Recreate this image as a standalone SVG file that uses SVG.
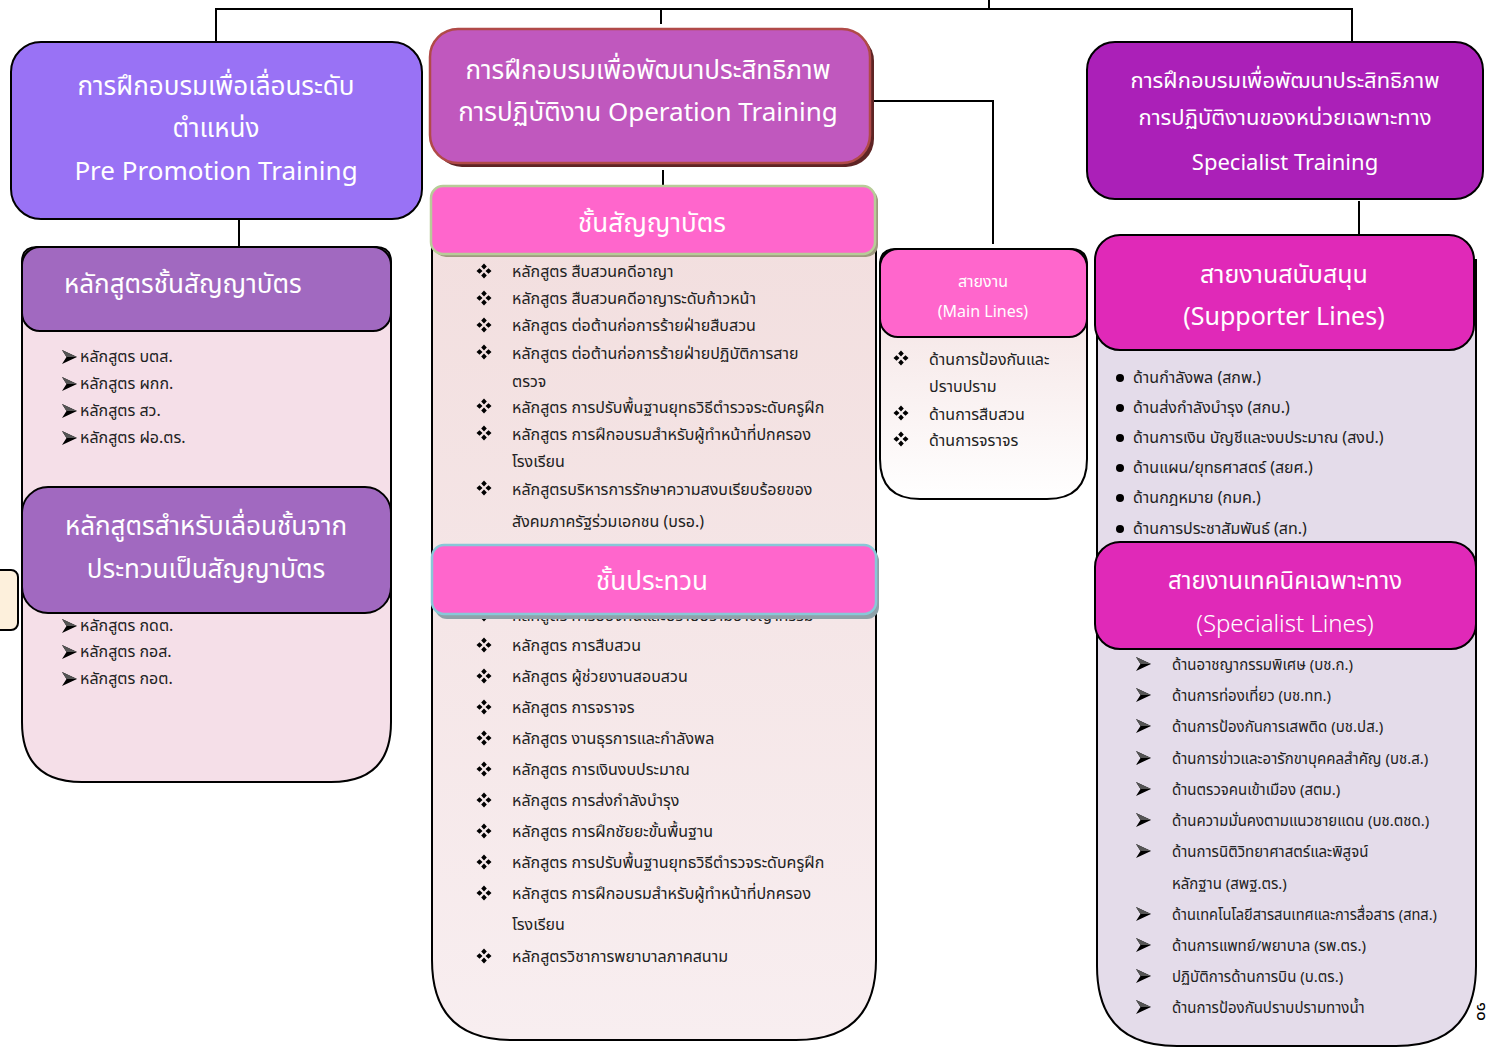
<svg xmlns="http://www.w3.org/2000/svg" width="1494" height="1048" viewBox="0 0 1494 1048">
<defs>
<style>
.t{font-family:"Noto Sans Thai","Noto Sans","DejaVu Sans",sans-serif;}
.hw{fill:#ffffff;text-anchor:middle;}
.it{fill:#222222;font-size:16px;}
.is{fill:#222222;font-size:15px;}
.cn{stroke:#000;stroke-width:2;fill:none;}
</style>
<g id="arr"><path d="M0,-7 L15,0 L0,7 L4.5,0 Z" fill="#000"/><path d="M0,-7 L15,0 L4.5,0 Z" fill="#555"/></g>
<g id="dia" fill="#000"><path d="M0,-7.5 L2.8,-4.5 L0,-1.5 L-2.8,-4.5 Z M0,7.5 L2.8,4.5 L0,1.5 L-2.8,4.5 Z M-7.5,0 L-4.5,2.8 L-1.5,0 L-4.5,-2.8 Z M7.5,0 L4.5,2.8 L1.5,0 L4.5,-2.8 Z"/></g>
<linearGradient id="gMid" x1="0" y1="0" x2="0" y2="1"><stop offset="0" stop-color="#f2dede"/><stop offset="1" stop-color="#f8eef0"/></linearGradient>
<linearGradient id="gMain" x1="0" y1="0" x2="0" y2="1"><stop offset="0" stop-color="#f2dede"/><stop offset="1" stop-color="#ffffff"/></linearGradient>
</defs>
<rect width="1494" height="1048" fill="#ffffff"/>

<g id="connectors">
<path class="cn" d="M216 9 H1352 M216 8 V42 M661 8 V24 M989 0 V8 M1352 8 V42"/>
<path class="cn" d="M872 101 H993 V244"/>
<path class="cn" d="M663 170 V186"/>
<path class="cn" d="M239 220 V247"/>
<path class="cn" d="M1359 201 V236"/>
</g>

<g id="side-tab"><rect x="-12" y="570" width="30" height="60" rx="7" fill="#fdf0dc" stroke="#000" stroke-width="2"/></g>

<g id="pre-promotion" class="t">
<rect x="11" y="42" width="411" height="177" rx="30" fill="#9972f5" stroke="#000" stroke-width="2"/>
<text class="hw" font-size="26" x="216" y="95">การฝึกอบรมเพื่อเลื่อนระดับ</text>
<text class="hw" font-size="26" x="216" y="137">ตำแหน่ง</text>
<text class="hw" font-size="26" x="216" y="180">Pre Promotion Training</text>
</g>

<g id="operation" class="t">
<rect x="434" y="33" width="440" height="134" rx="28" fill="#5e2424"/>
<rect x="430" y="29" width="440" height="134" rx="28" fill="#c058be" stroke="#b04a48" stroke-width="2.5"/>
<text class="hw" font-size="26" x="648" y="79">การฝึกอบรมเพื่อพัฒนาประสิทธิภาพ</text>
<text class="hw" font-size="26" x="648" y="121">การปฏิบัติงาน Operation Training</text>
</g>

<g id="specialist-training" class="t">
<rect x="1087" y="42" width="396" height="157" rx="28" fill="#ab20b8" stroke="#000" stroke-width="2"/>
<text class="hw" font-size="22" x="1285" y="88">การฝึกอบรมเพื่อพัฒนาประสิทธิภาพ</text>
<text class="hw" font-size="22" x="1285" y="125">การปฏิบัติงานของหน่วยเฉพาะทาง</text>
<text class="hw" font-size="22" x="1285" y="170">Specialist Training</text>
</g>

<g id="left-courses" class="t">
<path d="M22 262 Q22 247 37 247 H376 Q391 247 391 262 V722 Q391 782 331 782 H82 Q22 782 22 722 Z" fill="#f5dfe8" stroke="#000" stroke-width="2"/>
<rect x="22" y="247" width="369" height="84" rx="18" fill="#a169c0" stroke="#000" stroke-width="2"/>
<text fill="#fff" font-size="26" x="64" y="293">หลักสูตรชั้นสัญญาบัตร</text>
<use href="#arr" x="62" y="357"/><text class="it" x="80" y="362">หลักสูตร บตส.</text>
<use href="#arr" x="62" y="384"/><text class="it" x="80" y="389">หลักสูตร ผกก.</text>
<use href="#arr" x="62" y="411"/><text class="it" x="80" y="416">หลักสูตร สว.</text>
<use href="#arr" x="62" y="438"/><text class="it" x="80" y="443">หลักสูตร ฝอ.ตร.</text>
<rect x="22" y="487" width="369" height="126" rx="26" fill="#a169c0" stroke="#000" stroke-width="2"/>
<text class="hw" font-size="26" x="206" y="535">หลักสูตรสำหรับเลื่อนชั้นจาก</text>
<text class="hw" font-size="26" x="206" y="578">ประทวนเป็นสัญญาบัตร</text>
<use href="#arr" x="62" y="626"/><text class="it" x="80" y="631">หลักสูตร กดต.</text>
<use href="#arr" x="62" y="652"/><text class="it" x="80" y="657">หลักสูตร กอส.</text>
<use href="#arr" x="62" y="679"/><text class="it" x="80" y="684">หลักสูตร กอต.</text>
</g>

<g id="operation-courses" class="t">
<path d="M432 200 H876 V960 Q876 1040 796 1040 H512 Q432 1040 432 960 Z" fill="url(#gMid)" stroke="#000" stroke-width="2"/>
<rect x="434" y="189" width="444" height="68" rx="12" fill="#a09a80"/>
<rect x="431" y="186" width="444" height="68" rx="12" fill="#ff66cc" stroke="#b8cc98" stroke-width="2.5"/>
<text class="hw" font-size="26" x="652" y="232">ชั้นสัญญาบัตร</text>
<use href="#dia" x="484" y="271"/><text class="it" x="512" y="277">หลักสูตร สืบสวนคดีอาญา</text>
<use href="#dia" x="484" y="298"/><text class="it" x="512" y="304">หลักสูตร สืบสวนคดีอาญาระดับก้าวหน้า</text>
<use href="#dia" x="484" y="325"/><text class="it" x="512" y="331">หลักสูตร ต่อต้านก่อการร้ายฝ่ายสืบสวน</text>
<use href="#dia" x="484" y="352"/><text class="it" x="512" y="359">หลักสูตร ต่อต้านก่อการร้ายฝ่ายปฏิบัติการสาย</text>
<text class="it" x="512" y="387">ตรวจ</text>
<use href="#dia" x="484" y="406"/><text class="it" x="512" y="413">หลักสูตร การปรับพื้นฐานยุทธวิธีตำรวจระดับครูฝึก</text>
<use href="#dia" x="484" y="433"/><text class="it" x="512" y="440">หลักสูตร การฝึกอบรมสำหรับผู้ทำหน้าที่ปกครอง</text>
<text class="it" x="512" y="467">โรงเรียน</text>
<use href="#dia" x="484" y="488"/><text class="it" x="512" y="495">หลักสูตรบริหารการรักษาความสงบเรียบร้อยของ</text>
<text class="it" x="512" y="527">สังคมภาครัฐร่วมเอกชน (บรอ.)</text>
<use href="#dia" x="484" y="614"/><text class="it" x="512" y="621">หลักสูตร การป้องกันและปราบปรามอาชญากรรม</text>
<rect x="435" y="549" width="444" height="70" rx="12" fill="#8fa2aa"/>
<rect x="432" y="545" width="444" height="69" rx="12" fill="#ff66cc" stroke="#88c8d8" stroke-width="2.5"/>
<text class="hw" font-size="26" x="652" y="590">ชั้นประทวน</text>
<use href="#dia" x="484" y="645"/><text class="it" x="512" y="651">หลักสูตร การสืบสวน</text>
<use href="#dia" x="484" y="676"/><text class="it" x="512" y="682">หลักสูตร ผู้ช่วยงานสอบสวน</text>
<use href="#dia" x="484" y="707"/><text class="it" x="512" y="713">หลักสูตร การจราจร</text>
<use href="#dia" x="484" y="738"/><text class="it" x="512" y="744">หลักสูตร งานธุรการและกำลังพล</text>
<use href="#dia" x="484" y="769"/><text class="it" x="512" y="775">หลักสูตร การเงินงบประมาณ</text>
<use href="#dia" x="484" y="800"/><text class="it" x="512" y="806">หลักสูตร การส่งกำลังบำรุง</text>
<use href="#dia" x="484" y="831"/><text class="it" x="512" y="837">หลักสูตร การฝึกชัยยะขั้นพื้นฐาน</text>
<use href="#dia" x="484" y="862"/><text class="it" x="512" y="868">หลักสูตร การปรับพื้นฐานยุทธวิธีตำรวจระดับครูฝึก</text>
<use href="#dia" x="484" y="893"/><text class="it" x="512" y="899">หลักสูตร การฝึกอบรมสำหรับผู้ทำหน้าที่ปกครอง</text>
<text class="it" x="512" y="930">โรงเรียน</text>
<use href="#dia" x="484" y="956"/><text class="it" x="512" y="962">หลักสูตรวิชาการพยาบาลภาคสนาม</text>
</g>

<g id="main-lines" class="t">
<path d="M880 265 Q880 249 896 249 H1071 Q1087 249 1087 265 V459 Q1087 499 1047 499 H920 Q880 499 880 459 Z" fill="url(#gMain)" stroke="#000" stroke-width="2"/>
<rect x="880" y="249" width="207" height="88" rx="18" fill="#ff66cc" stroke="#000" stroke-width="2"/>
<text class="hw" font-size="16" x="983" y="287">สายงาน</text>
<text class="hw" font-size="16" x="983" y="317">(Main Lines)</text>
<use href="#dia" x="901" y="358"/><text class="it" x="929" y="365">ด้านการป้องกันและ</text>
<text class="it" x="929" y="392">ปราบปราม</text>
<use href="#dia" x="901" y="413"/><text class="it" x="929" y="420">ด้านการสืบสวน</text>
<use href="#dia" x="901" y="439"/><text class="it" x="929" y="446">ด้านการจราจร</text>
</g>

<g id="supporter-lines" class="t">
<path d="M1097 260 H1476 V966 Q1476 1046 1396 1046 H1177 Q1097 1046 1097 966 Z" fill="#e4dcea" stroke="#000" stroke-width="2"/>
<rect x="1095" y="235" width="379" height="115" rx="25" fill="#e029b8" stroke="#000" stroke-width="2"/>
<text class="hw" font-size="25" x="1284" y="283">สายงานสนับสนุน</text>
<text class="hw" font-size="25" x="1284" y="325">(Supporter Lines)</text>
<circle cx="1120" cy="378" r="4" fill="#000"/><text class="it" x="1133" y="383">ด้านกำลังพล (สกพ.)</text>
<circle cx="1120" cy="408" r="4" fill="#000"/><text class="it" x="1133" y="413">ด้านส่งกำลังบำรุง (สกบ.)</text>
<circle cx="1120" cy="438" r="4" fill="#000"/><text class="it" x="1133" y="443">ด้านการเงิน บัญชีและงบประมาณ (สงป.)</text>
<circle cx="1120" cy="468" r="4" fill="#000"/><text class="it" x="1133" y="473">ด้านแผน/ยุทธศาสตร์ (สยศ.)</text>
<circle cx="1120" cy="498" r="4" fill="#000"/><text class="it" x="1133" y="503">ด้านกฎหมาย (กมค.)</text>
<circle cx="1120" cy="529" r="4" fill="#000"/><text class="it" x="1133" y="534">ด้านการประชาสัมพันธ์ (สท.)</text>
</g>

<g id="specialist-lines" class="t">
<rect x="1095" y="542" width="381" height="107" rx="25" fill="#e029b8" stroke="#000" stroke-width="2"/>
<text class="hw" font-size="24" x="1285" y="589">สายงานเทคนิคเฉพาะทาง</text>
<text class="hw" font-size="24" font-weight="300" x="1285" y="632">(Specialist Lines)</text>
<use href="#arr" x="1136" y="664"/><text class="is" x="1172" y="670">ด้านอาชญากรรมพิเศษ (บช.ก.)</text>
<use href="#arr" x="1136" y="695"/><text class="is" x="1172" y="701">ด้านการท่องเที่ยว (บช.ทท.)</text>
<use href="#arr" x="1136" y="726"/><text class="is" x="1172" y="732">ด้านการป้องกันการเสพติด (บช.ปส.)</text>
<use href="#arr" x="1136" y="758"/><text class="is" x="1172" y="764">ด้านการข่าวและอารักขาบุคคลสำคัญ (บช.ส.)</text>
<use href="#arr" x="1136" y="789"/><text class="is" x="1172" y="795">ด้านตรวจคนเข้าเมือง (สตม.)</text>
<use href="#arr" x="1136" y="820"/><text class="is" x="1172" y="826">ด้านความมั่นคงตามแนวชายแดน (บช.ตชด.)</text>
<use href="#arr" x="1136" y="851"/><text class="is" x="1172" y="857">ด้านการนิติวิทยาศาสตร์และพิสูจน์</text>
<text class="is" x="1172" y="889">หลักฐาน (สพฐ.ตร.)</text>
<use href="#arr" x="1136" y="914"/><text class="is" x="1172" y="920" textLength="265" lengthAdjust="spacingAndGlyphs">ด้านเทคโนโลยีสารสนเทศและการสื่อสาร (สทส.)</text>
<use href="#arr" x="1136" y="945"/><text class="is" x="1172" y="951">ด้านการแพทย์/พยาบาล (รพ.ตร.)</text>
<use href="#arr" x="1136" y="976"/><text class="is" x="1172" y="982">ปฏิบัติการด้านการบิน (บ.ตร.)</text>
<use href="#arr" x="1136" y="1007"/><text class="is" x="1172" y="1013">ด้านการป้องกันปราบปรามทางน้ำ</text>
</g>

<g id="page-number" class="t"><text fill="#000" font-size="17" transform="translate(1477 1002) rotate(90)">๑๐</text></g>
</svg>
